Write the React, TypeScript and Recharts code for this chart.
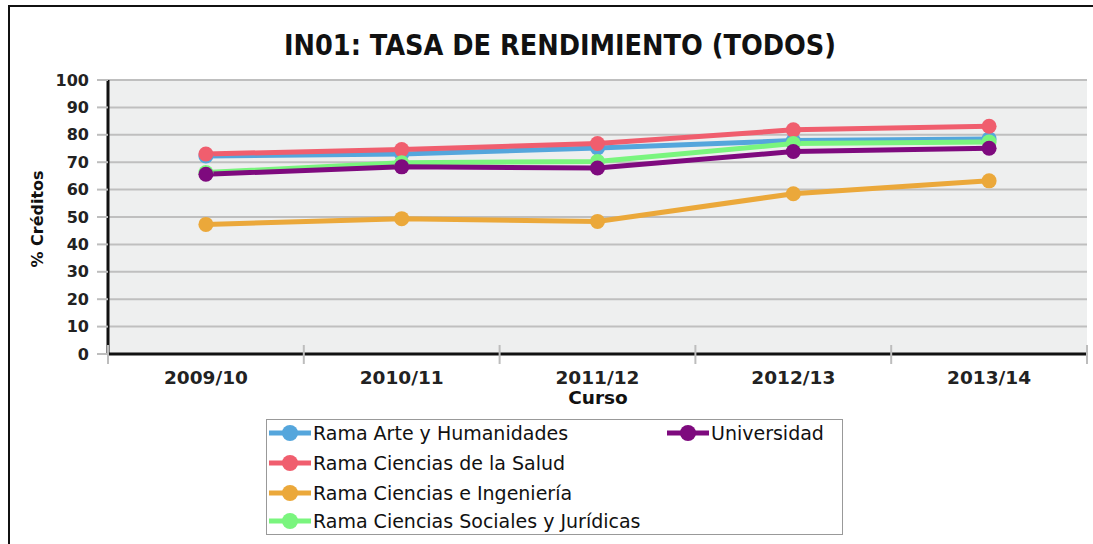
import React from 'react';
import { LineChart, Line, XAxis, YAxis, CartesianGrid } from 'recharts';

const categories = ['2009/10', '2010/11', '2011/12', '2012/13', '2013/14'];
const arte = [72.3, 73.0, 75.2, 77.9, 78.5];
const salud = [73.0, 74.6, 76.8, 81.8, 83.1];
const ingenieria = [47.3, 49.4, 48.4, 58.5, 63.2];
const sociales = [66.2, 69.8, 70.3, 76.8, 77.4];
const universidad = [65.6, 68.3, 67.9, 73.9, 75.1];
const yTicks = [0, 10, 20, 30, 40, 50, 60, 70, 80, 90, 100];

const series = [
  { key: 'arte', name: 'Rama Arte y Humanidades', color: '#55A6DC', values: arte },
  { key: 'salud', name: 'Rama Ciencias de la Salud', color: '#F05E6E', values: salud },
  { key: 'ingenieria', name: 'Rama Ciencias e Ingeniería', color: '#EBA83A', values: ingenieria },
  { key: 'sociales', name: 'Rama Ciencias Sociales y Jurídicas', color: '#7AF57E', values: sociales },
  { key: 'universidad', name: 'Universidad', color: '#7E0A7E', values: universidad },
];

const data = categories.map((c, i) => {
  const row: any = { curso: c };
  series.forEach((s) => (row[s.key] = s.values[i]));
  return row;
});

const W = 1093;
const H = 544;
const PLOT_LEFT = 108;
const PLOT_RIGHT = 1087;
const PLOT_TOP = 80;
const PLOT_BOTTOM = 354;
const BW = (PLOT_RIGHT - PLOT_LEFT) / categories.length;
const FONT = '"DejaVu Sans", sans-serif';

const XTick = (props: any) => {
  const { x, y, payload, index } = props;
  const left = x - BW / 2;
  const right = x + BW / 2;
  return (
    <g>
      <line x1={left} x2={left} y1={y - 9} y2={y + 10} stroke="#BDBDBD" strokeWidth={2} />
      {index === categories.length - 1 && (
        <line x1={right} x2={right} y1={y - 9} y2={y + 10} stroke="#BDBDBD" strokeWidth={2} />
      )}
      <text x={x} y={y + 23} textAnchor="middle" dominantBaseline="central"
        fontFamily={FONT} fontWeight="bold" fontSize={18.5} fill="#222">
        {payload.value}
      </text>
    </g>
  );
};

const legendPos = [
  { left: 269, top: 433 },
  { left: 269, top: 463 },
  { left: 269, top: 492.5 },
  { left: 269, top: 521 },
  { left: 667, top: 433 },
];

export default function App() {
  return (
    <div style={{ position: 'absolute', left: 0, top: 0, width: W, height: H, background: '#fff', overflow: 'hidden' }}>
      <div style={{ position: 'absolute', left: 8, top: 5, width: W, height: H, borderLeft: '2px solid #111', borderTop: '2px solid #111' }} />
      <div style={{ position: 'absolute', left: 0, top: 0 }}>
        <LineChart width={W} height={H} data={data}
          margin={{ top: PLOT_TOP, left: PLOT_LEFT - 60, right: W - PLOT_RIGHT, bottom: H - PLOT_BOTTOM - 60 }}>
          <CartesianGrid vertical={false} fill="#EEEFEF" stroke="#BFBFBF" strokeWidth={2} />
          <XAxis dataKey="curso" height={60} axisLine={{ stroke: '#111', strokeWidth: 3 }}
            padding={{ left: BW / 2, right: BW / 2 }}
            tickLine={false} tickSize={0} tickMargin={0} tick={<XTick />} interval={0} />
          <YAxis width={60} domain={[0, 100]} ticks={yTicks} interval={0}
            axisLine={{ stroke: '#111', strokeWidth: 3 }}
            tickLine={{ stroke: '#BDBDBD', strokeWidth: 2 }} tickSize={11} tickMargin={8}
            tick={{ fontFamily: FONT, fontWeight: 'bold', fontSize: 16, fill: '#222' }} />
          <YAxis yAxisId="r" orientation="right" width={0} domain={[0, 100]}
            axisLine={{ stroke: '#BFBFBF', strokeWidth: 2 }} tick={false} tickLine={false} />
          {series.map((s) => (
            <Line key={s.key} dataKey={s.key} name={s.name} stroke={s.color} strokeWidth={5}
              dot={{ r: 7.5, fill: s.color, stroke: s.color, strokeWidth: 0 }}
              activeDot={false} isAnimationActive={false} />
          ))}
        </LineChart>
      </div>
      <svg width={W} height={H} style={{ position: 'absolute', left: 0, top: 0, pointerEvents: 'none' }}>
        <text x={560} y={45} textAnchor="middle" dominantBaseline="central"
          fontFamily='"DejaVu Sans Condensed", "DejaVu Sans", sans-serif' fontWeight="bold" fontSize={28.5} fill="#111">
          IN01: TASA DE RENDIMIENTO (TODOS)
        </text>
        <text x={598} y={397.5} textAnchor="middle" dominantBaseline="central"
          fontFamily={FONT} fontWeight="bold" fontSize={18.5} fill="#111">
          Curso
        </text>
        <text x={37} y={219} textAnchor="middle" dominantBaseline="central" transform="rotate(-90 37 219)"
          fontFamily={FONT} fontWeight="bold" fontSize={16} fill="#111">
          % Créditos
        </text>
      </svg>
      <div style={{ position: 'absolute', left: 266, top: 419, width: 577, height: 116, border: '1px solid #999', boxSizing: 'border-box' }} />
      {series.map((s, i) => (
        <div key={s.key} style={{ position: 'absolute', left: legendPos[i].left, top: legendPos[i].top - 12, height: 24, display: 'flex', alignItems: 'center', whiteSpace: 'nowrap' }}>
          <svg width={44} height={24} style={{ display: 'block' }}>
            <line x1={0} x2={42} y1={12} y2={12} stroke={s.color} strokeWidth={5} />
            <circle cx={21} cy={12} r={8} fill={s.color} />
          </svg>
          <span style={{ fontFamily: FONT, fontSize: 19, color: '#111', lineHeight: '24px' }}>{s.name}</span>
        </div>
      ))}
    </div>
  );
}
